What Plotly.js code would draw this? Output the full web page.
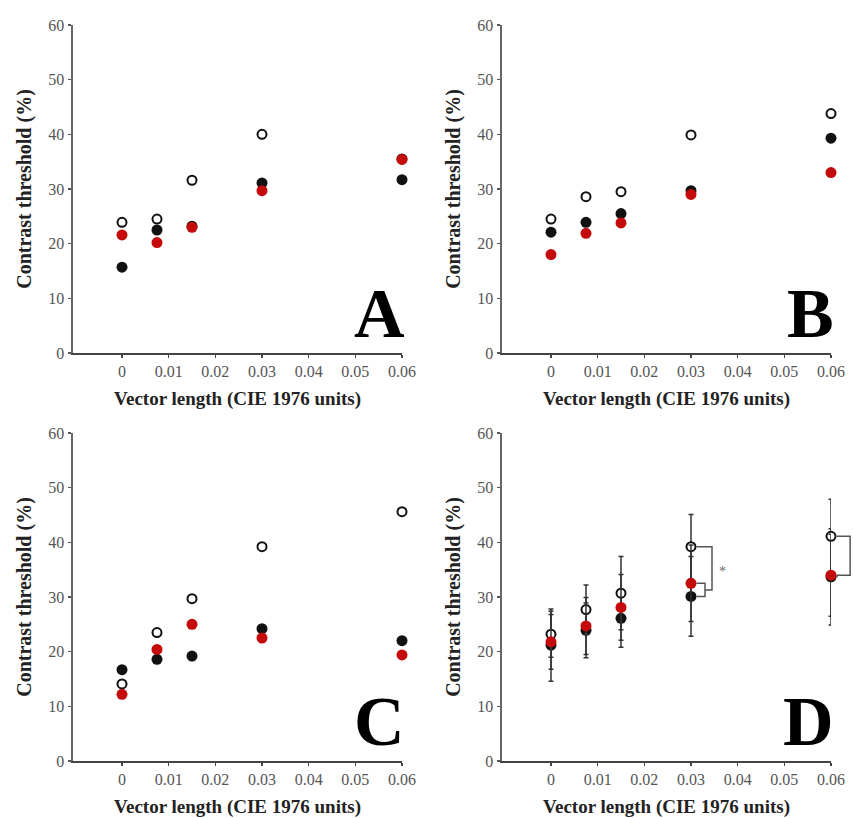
<!DOCTYPE html>
<html>
<head>
<meta charset="utf-8">
<script src="https://cdn.plot.ly/plotly-3.0.1.min.js"></script>
<style>html,body{margin:0;padding:0;background:#fff;}#chart{width:853px;height:818px;}</style>
</head>
<body>
<div id="chart"></div>
<script>
// ---- data ----
const vectorLength = [0, 0.0075, 0.015, 0.03, 0.06];
const xTickVals = [0, 0.01, 0.02, 0.03, 0.04, 0.05, 0.06];
const xTickText = ["0", "0.01", "0.02", "0.03", "0.04", "0.05", "0.06"];
const yTickVals = [0, 10, 20, 30, 40, 50, 60];
const panelLetters = ["A", "B", "C", "D"];
const xTitle = "Vector length (CIE 1976 units)";
const yTitle = "Contrast threshold (%)";

const A_open  = [23.9, 24.5, 31.6, 40.0, 35.5];
const A_black = [15.7, 22.5, 23.2, 31.1, 31.7];
const A_red   = [21.6, 20.2, 23.0, 29.7, 35.4];

const B_open  = [24.5, 28.6, 29.5, 39.9, 43.8];
const B_black = [22.1, 23.9, 25.5, 29.7, 39.3];
const B_red   = [18.0, 21.9, 23.8, 29.0, 33.0];

const C_open  = [14.1, 23.5, 29.7, 39.2, 45.6];
const C_black = [16.7, 18.6, 19.2, 24.2, 22.0];
const C_red   = [12.2, 20.4, 25.0, 22.5, 19.4];

const D_open  = [23.2, 27.7, 30.7, 39.2, 41.1];
const D_black = [21.2, 23.9, 26.1, 30.1, 33.7];
const D_red   = [21.8, 24.7, 28.1, 32.5, 34.0];
const D_open_err  = [4.2, 4.5, 6.7, 5.9, 6.8];
const D_black_err = [6.6, 5.0, 5.3, 7.3, 8.8];
const D_red_err   = [5.0, 5.2, 6.0, 7.0, 7.5];

// ---- styling / layout ----
const FONT = "Liberation Serif, Times New Roman, serif";
const RED = "#c40a0a";
const BLACK = "#111111";
const xRange = [-0.0105, 0.06];
const yRange = [0, 60];
const W = 853, H = 818;
const domX = [[73/W, 402/W], [502/W, 831/W], [73/W, 402/W], [502/W, 831/W]];
const domY = [[1-353/H, 1-25/H], [1-353/H, 1-25/H], [1-761/H, 1-433/H], [1-761/H, 1-433/H]];

const panels = [
  {open: A_open, black: A_black, red: A_red},
  {open: B_open, black: B_black, red: B_red},
  {open: C_open, black: C_black, red: C_red},
  {open: D_open, black: D_black, red: D_red,
   openErr: D_open_err, blackErr: D_black_err, redErr: D_red_err}
];

const traces = [];
const layout = {
  width: W, height: H,
  margin: {l: 0, r: 0, t: 0, b: 0},
  paper_bgcolor: "#fff", plot_bgcolor: "rgba(0,0,0,0)",
  showlegend: false,
  font: {family: FONT, color: "#222"},
  annotations: [], shapes: []
};

function errObj(arr) {
  return arr ? {type: "data", array: arr, visible: true, color: "#333", thickness: 1.5, width: 2.5} : {visible: false};
}

panels.forEach((p, i) => {
  const n = i + 1;
  const xa = n === 1 ? "x" : "x" + n;
  const ya = n === 1 ? "y" : "y" + n;
  traces.push({x: vectorLength, y: p.black, xaxis: xa, yaxis: ya, type: "scatter", mode: "markers",
    cliponaxis: false, error_y: errObj(p.blackErr),
    marker: {size: 11, color: BLACK, line: {width: 0}}});
  traces.push({x: vectorLength, y: p.open, xaxis: xa, yaxis: ya, type: "scatter", mode: "markers",
    cliponaxis: false, error_y: errObj(p.openErr),
    marker: {size: 9, color: "#fff", line: {width: 2, color: BLACK}}});
  traces.push({x: vectorLength, y: p.red, xaxis: xa, yaxis: ya, type: "scatter", mode: "markers",
    cliponaxis: false, error_y: errObj(p.redErr),
    marker: {size: 11, color: RED, line: {width: 0}}});

  const axX = {
    domain: domX[i], range: xRange, anchor: ya,
    showgrid: false, zeroline: false, showline: true, linecolor: "#444", linewidth: 2,
    ticks: "outside", ticklen: 3, tickwidth: 1.5, tickcolor: "#444",
    tickvals: xTickVals, ticktext: xTickText,
    tickfont: {family: FONT, size: 16, color: "#555"},
    title: {text: "<b>" + xTitle + "</b>", font: {family: FONT, size: 19, color: "#222"}, standoff: 12}
  };
  const axY = {
    domain: domY[i], range: yRange, anchor: xa,
    showgrid: false, zeroline: false, showline: true, linecolor: "#666", linewidth: 2.5,
    ticks: "outside", ticklen: 3, tickwidth: 1.5, tickcolor: "#555",
    tickvals: yTickVals,
    tickfont: {family: FONT, size: 16, color: "#555"},
    title: {text: "<b>" + yTitle + "</b>", font: {family: FONT, size: 20, color: "#222"}, standoff: 12}
  };
  layout[n === 1 ? "xaxis" : "xaxis" + n] = axX;
  layout[n === 1 ? "yaxis" : "yaxis" + n] = axY;

  layout.annotations.push({
    text: "<b>" + panelLetters[i] + "</b>", xref: "paper", yref: "paper",
    x: domX[i][1] + 5/W, y: domY[i][0] + 40/H, xanchor: "right", yanchor: "middle",
    showarrow: false, font: {family: FONT, size: 70, color: "#000"}
  });
});

// significance brackets in panel D, computed from the data through the axis scales
function px(v, d) { return d[0] + (v - xRange[0]) / (xRange[1] - xRange[0]) * (d[1] - d[0]); }
function py(v, d) { return d[0] + (v - yRange[0]) / (yRange[1] - yRange[0]) * (d[1] - d[0]); }
const dX = domX[3], dY = domY[3];
const bracketStyle = {color: "#555", width: 1.5};
[[3, 0.0045, 0.003], [4, 0.0041, 0.0013]].forEach(([k, outer, inner]) => {
  const x0 = vectorLength[k];
  const xm = px(x0 + 0.0012, dX);
  const xo = px(x0 + outer, dX);
  const xi = px(x0 + inner, dX);
  const yo = py(D_open[k], dY);
  const yr = py(D_red[k], dY);
  const yb = py(D_black[k], dY);
  const ymid = py(k === 3 ? (D_red[k] + D_black[k]) / 2 : D_red[k], dY);
  layout.shapes.push({type: "path", xref: "paper", yref: "paper",
    path: `M${xm},${yo} H${xo} V${ymid} H${xi}`, line: bracketStyle});
  layout.shapes.push({type: "path", xref: "paper", yref: "paper",
    path: `M${xm},${yr} H${xi} V${yb} H${xm}`, line: bracketStyle});
});
layout.annotations.push({
  text: "*", xref: "paper", yref: "paper",
  x: px(vectorLength[3] + 0.0055, dX), y: py((D_open[3] + D_red[3]) / 2 - 1.2, dY),
  xanchor: "left", yanchor: "middle", showarrow: false,
  font: {family: FONT, size: 14, color: "#666"}
});

Plotly.newPlot("chart", traces, layout, {staticPlot: true, displayModeBar: false});
</script>
</body>
</html>
